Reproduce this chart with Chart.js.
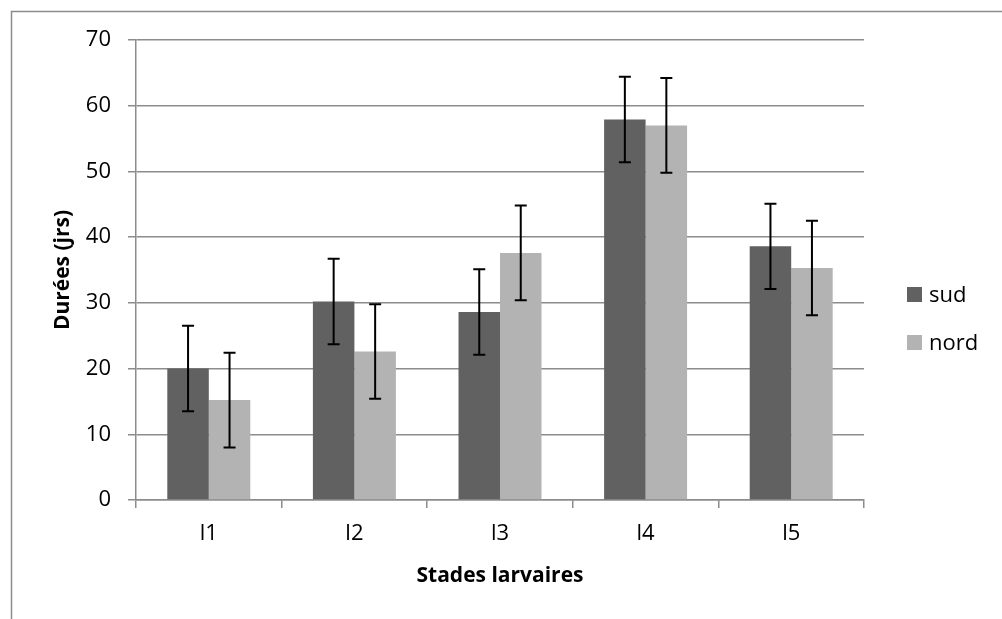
<!DOCTYPE html>
<html>
<head>
<meta charset="utf-8">
<script src="https://cdn.jsdelivr.net/npm/chart.js@4/dist/chart.umd.min.js"></script>
<style>
  html, body { margin: 0; padding: 0; background: #ffffff; }
  #wrap { position: relative; width: 1002px; height: 619px; }
  canvas { display: block; }
</style>
</head>
<body>
<div id="wrap"><canvas id="chart" width="1002" height="619"></canvas></div>
<script>
// Larval stage durations (days), southern vs northern populations
const stages = ['l1', 'l2', 'l3', 'l4', 'l5'];
const sudValues = [20.0, 30.2, 28.6, 57.9, 38.6];
const nordValues = [15.2, 22.6, 37.6, 57.0, 35.3];
const sudErrors = [6.5, 6.5, 6.5, 6.5, 6.5];
const nordErrors = [7.2, 7.2, 7.2, 7.2, 7.2];
const yTicks = [0, 10, 20, 30, 40, 50, 60, 70];

const GRID = '#8c8c8c';
const FONT = "'Open Sans', 'DejaVu Sans', sans-serif";

// Vertical error bars with caps, positioned from each bar's scale coordinates
const errorBars = {
  id: 'errorBars',
  afterDatasetsDraw(chart) {
    const ctx = chart.ctx;
    const y = chart.scales.y;
    ctx.save();
    ctx.strokeStyle = '#000000';
    ctx.lineWidth = 2;
    chart.data.datasets.forEach((ds, di) => {
      const meta = chart.getDatasetMeta(di);
      meta.data.forEach((bar, i) => {
        const v = ds.data[i];
        const e = ds.errors[i];
        const x = bar.x;
        const yTop = y.getPixelForValue(v + e);
        const yBot = y.getPixelForValue(v - e);
        const cap = 6;
        ctx.beginPath();
        ctx.moveTo(x, yTop); ctx.lineTo(x, yBot);
        ctx.moveTo(x - cap, yTop); ctx.lineTo(x + cap, yTop);
        ctx.moveTo(x - cap, yBot); ctx.lineTo(x + cap, yBot);
        ctx.stroke();
      });
    });
    ctx.restore();
  }
};

// Outer frame of the chart area and the side legend
const frameAndLegend = {
  id: 'frameAndLegend',
  afterDraw(chart) {
    const ctx = chart.ctx;
    ctx.save();
    ctx.strokeStyle = GRID;
    ctx.lineWidth = 1.5;
    ctx.beginPath();
    ctx.moveTo(11.5, chart.height + 2);
    ctx.lineTo(11.5, 11.5);
    ctx.lineTo(chart.width + 2, 11.5);
    ctx.stroke();

    ctx.font = '22px ' + FONT;
    ctx.textBaseline = 'alphabetic';
    ctx.textAlign = 'left';
    chart.data.datasets.forEach((ds, i) => {
      const bottom = 302 + i * 48;
      ctx.fillStyle = ds.backgroundColor;
      ctx.fillRect(907, bottom - 15, 15, 15);
      ctx.fillStyle = '#000000';
      ctx.fillText(ds.label, 929, bottom);
    });
    ctx.restore();
  }
};

new Chart(document.getElementById('chart'), {
  type: 'bar',
  data: {
    labels: stages,
    datasets: [
      { label: 'sud', data: sudValues, errors: sudErrors, backgroundColor: '#616161' },
      { label: 'nord', data: nordValues, errors: nordErrors, backgroundColor: '#b3b3b3' }
    ]
  },
  options: {
    responsive: false,
    animation: false,
    devicePixelRatio: 1,
    layout: { padding: { left: 0, top: 40, right: 138, bottom: 0 } },
    datasets: { bar: { categoryPercentage: 0.57, barPercentage: 1.0, borderWidth: 0 } },
    plugins: { legend: { display: false }, tooltip: { enabled: false } },
    scales: {
      x: {
        offset: true,
        afterFit(scale) { scale.height = 619 - 500; },
        grid: {
          display: true, drawOnChartArea: false, drawTicks: true,
          tickLength: 8, color: GRID, lineWidth: 1.5, offset: true
        },
        border: { display: true, color: GRID, width: 1.5 },
        ticks: { color: '#000000', font: { family: FONT, size: 22 }, padding: 13 },
        title: {
          display: true, text: 'Stades larvaires', color: '#000000',
          font: { family: FONT, size: 21, weight: 'bold' },
          padding: { top: 0, bottom: 30 }
        }
      },
      y: {
        min: 0, max: 70,
        afterFit(scale) { scale.width = 136; },
        afterBuildTicks(scale) { scale.ticks = yTicks.map(v => ({ value: v })); },
        grid: { color: GRID, lineWidth: 1.5, tickLength: 8 },
        border: { display: true, color: GRID, width: 1.5 },
        ticks: { color: '#000000', font: { family: FONT, size: 22 }, padding: 17 },
        title: {
          display: true, text: 'Durées (jrs)', color: '#000000',
          font: { family: FONT, size: 21, weight: 'bold' },
          padding: { top: 50, bottom: 0 }
        }
      }
    }
  },
  plugins: [errorBars, frameAndLegend]
});
</script>
</body>
</html>
